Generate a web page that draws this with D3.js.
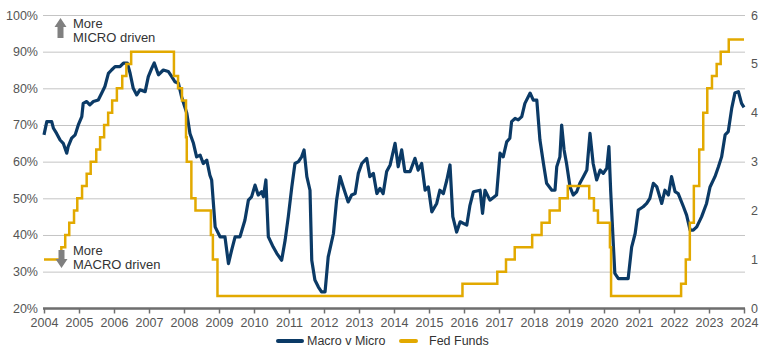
<!DOCTYPE html>
<html>
<head>
<meta charset="utf-8">
<script src="https://cdn.jsdelivr.net/npm/d3@7"></script>
<style>
  body { margin: 0; background: #fff; }
  svg { font-family: "Liberation Sans", Arial, sans-serif; }
</style>
</head>
<body>
<svg width="770" height="353"></svg>
<script>
// tick labels
var years = d3.range(2004, 2025);
var leftTicks = [20, 30, 40, 50, 60, 70, 80, 90, 100];
var rightTicks = [0, 1, 2, 3, 4, 5, 6];

// Macro v Micro (%), [decimal year, value]
var macroMicro = [
  [2004.00, 67.3], [2004.08, 70.9], [2004.22, 70.9], [2004.27, 69.1], [2004.36, 67.7], [2004.46, 65.9],
  [2004.55, 65], [2004.65, 62.3], [2004.69, 64.1], [2004.79, 66.4], [2004.89, 67.3], [2004.98, 70],
  [2005.08, 72.3], [2005.12, 75.9], [2005.22, 76.4], [2005.31, 75.5], [2005.41, 76.4], [2005.55, 76.8],
  [2005.65, 78.7], [2005.74, 80.5], [2005.84, 84.1], [2005.93, 85], [2006.03, 85.9], [2006.17, 85.9],
  [2006.27, 86.9], [2006.38, 86.9], [2006.46, 84.1], [2006.55, 80], [2006.65, 78.2], [2006.74, 79.6],
  [2006.89, 79.1], [2006.98, 83.2], [2007.08, 85.5], [2007.15, 86.9], [2007.27, 83.7], [2007.41, 85],
  [2007.55, 84.6], [2007.65, 83.2], [2007.74, 81.8], [2007.84, 81.4], [2007.93, 77.7], [2008.08, 73.2],
  [2008.17, 67.7], [2008.27, 65], [2008.36, 61.3], [2008.46, 61.8], [2008.55, 59.5], [2008.65, 60.4],
  [2008.74, 56.3], [2008.79, 55], [2008.89, 42.2], [2009.03, 39.5], [2009.17, 39.5], [2009.27, 32.2],
  [2009.36, 35.8], [2009.46, 39.5], [2009.60, 39.5], [2009.74, 44], [2009.84, 49.5], [2009.93, 50.4],
  [2010.03, 53.6], [2010.12, 50.9], [2010.22, 51.8], [2010.27, 50.4], [2010.34, 55], [2010.41, 39.5],
  [2010.55, 36.7], [2010.65, 35], [2010.79, 33.1], [2010.89, 38.6], [2010.98, 45], [2011.08, 53.1],
  [2011.17, 59.5], [2011.27, 60], [2011.36, 61.3], [2011.43, 63.2], [2011.51, 55.9], [2011.60, 52.2],
  [2011.65, 33.1], [2011.74, 27.7], [2011.84, 25.8], [2011.93, 24.5], [2012.03, 24.5], [2012.12, 34],
  [2012.27, 40.4], [2012.36, 49.5], [2012.46, 55.9], [2012.55, 53.1], [2012.69, 49], [2012.79, 50.9],
  [2012.89, 51.3], [2012.98, 56.8], [2013.08, 59.5], [2013.22, 60.9], [2013.31, 55.9], [2013.41, 56.8],
  [2013.51, 51.3], [2013.60, 52.7], [2013.69, 51.3], [2013.79, 57.3], [2013.89, 59.1], [2014.03, 65],
  [2014.12, 58.6], [2014.22, 63.2], [2014.31, 57.3], [2014.46, 57.3], [2014.60, 60.9], [2014.69, 57.7],
  [2014.79, 59.5], [2014.89, 52.2], [2014.98, 53.1], [2015.08, 46.3], [2015.22, 48.6], [2015.31, 52.2],
  [2015.41, 51.3], [2015.51, 55], [2015.60, 59.1], [2015.68, 45], [2015.79, 40.8], [2015.89, 43.6],
  [2016.08, 42.7], [2016.17, 48.1], [2016.27, 51.8], [2016.46, 52.2], [2016.53, 45.9], [2016.60, 52.2],
  [2016.74, 49.5], [2016.93, 50.9], [2017.03, 62.3], [2017.12, 61.3], [2017.22, 65.4], [2017.31, 66.4],
  [2017.36, 70.9], [2017.46, 71.8], [2017.55, 71.4], [2017.65, 72.3], [2017.74, 75.9], [2017.89, 78.7],
  [2017.98, 76.8], [2018.08, 76.8], [2018.17, 65.9], [2018.27, 59.5], [2018.36, 54.1], [2018.51, 52.2],
  [2018.60, 52.2], [2018.65, 58.6], [2018.74, 61.3], [2018.79, 70], [2018.86, 63.2], [2018.93, 59.5],
  [2019.03, 53.1], [2019.12, 50.9], [2019.22, 51.8], [2019.31, 54.1], [2019.41, 55.9], [2019.51, 57.7],
  [2019.60, 67.7], [2019.69, 59.5], [2019.79, 55], [2019.89, 57.7], [2019.98, 56.8], [2020.08, 58.2],
  [2020.14, 64.1], [2020.19, 52.2], [2020.27, 36.7], [2020.31, 29.5], [2020.41, 28.1], [2020.60, 28.1],
  [2020.69, 28.1], [2020.79, 36.7], [2020.89, 40.4], [2020.98, 46.8], [2021.12, 47.7], [2021.22, 48.6],
  [2021.31, 50], [2021.41, 54.1], [2021.51, 53.1], [2021.65, 48.6], [2021.74, 52.2], [2021.84, 50.9],
  [2021.93, 55.9], [2022.03, 51.8], [2022.12, 51.3], [2022.27, 47.7], [2022.36, 45.4], [2022.46, 41.3],
  [2022.55, 41.3], [2022.65, 42.2], [2022.79, 45], [2022.93, 48.6], [2023.03, 53.1], [2023.17, 55.9],
  [2023.27, 58.6], [2023.36, 61.3], [2023.46, 67.3], [2023.55, 68.2], [2023.65, 74.6], [2023.74, 78.7],
  [2023.84, 79.1], [2023.93, 75.9], [2024.00, 74.8]
];

// Fed Funds target (upper bound), change dates and new rate
var fedDates = ["2004-01-01","2004-06-30","2004-08-10","2004-09-21","2004-11-10","2004-12-14",
  "2005-02-02","2005-03-22","2005-05-03","2005-06-30","2005-08-09","2005-09-20","2005-11-01","2005-12-13",
  "2006-01-31","2006-03-28","2006-05-10","2006-06-29","2007-09-18","2007-10-31","2007-12-11",
  "2008-01-22","2008-01-30","2008-03-18","2008-04-30","2008-10-08","2008-10-29","2008-12-16",
  "2015-12-16","2016-12-14","2017-03-15","2017-06-14","2017-12-13","2018-03-21","2018-06-13",
  "2018-09-26","2018-12-19","2019-07-31","2019-09-18","2019-10-30","2020-03-03","2020-03-15",
  "2022-03-16","2022-05-04","2022-06-15","2022-07-27","2022-09-21","2022-11-02","2022-12-14",
  "2023-02-01","2023-03-22","2023-05-03","2023-07-26","2024-01-01"];
var fedRates = [1, 1.25, 1.5, 1.75, 2, 2.25,
  2.5, 2.75, 3, 3.25, 3.5, 3.75, 4, 4.25,
  4.5, 4.75, 5, 5.25, 4.75, 4.5, 4.25,
  3.5, 3, 2.25, 2, 1.5, 1, 0.25,
  0.5, 0.75, 1, 1.25, 1.5, 1.75, 2,
  2.25, 2.5, 2.25, 2, 1.75, 1.25, 0.25,
  0.5, 1, 1.75, 2.5, 3.25, 4, 4.5,
  4.75, 5, 5.25, 5.5, 5.5];

var blue = "#0b3a66", gold = "#e2a900", grey = "#555";

var parse = d3.timeParse("%Y-%m-%d");
function decYear(s) {
  var d = parse(s), y = d.getFullYear();
  var a = new Date(y, 0, 1), b = new Date(y + 1, 0, 1);
  return y + (d - a) / (b - a);
}
var fedData = fedDates.map(function (d, i) { return [decYear(d), fedRates[i]]; });

var svg = d3.select("svg");

var x = d3.scaleLinear().domain([2004, 2024]).range([44, 744]);
var yL = d3.scaleLinear().domain([20, 100]).range([308.3, 15]);
var yR = d3.scaleLinear().domain([0, 6]).range([308.3, 15]);

// gridlines + left labels
var gL = svg.append("g").attr("transform", "translate(43,0)")
  .call(d3.axisLeft(yL).tickValues(leftTicks).tickSize(-702).tickPadding(5)
    .tickFormat(function (d) { return d + "%"; }));
gL.select(".domain").remove();
gL.selectAll("line").attr("stroke", "#c4c4c4");
gL.selectAll("text").attr("fill", grey).style("font-size", "12.5px");

var gR = svg.append("g").attr("transform", "translate(745,0)")
  .call(d3.axisRight(yR).tickValues(rightTicks).tickSize(0).tickPadding(6).tickFormat(d3.format("d")));
gR.select(".domain").remove();
gR.selectAll("text").attr("fill", grey).style("font-size", "12.5px");

// x axis
var gX = svg.append("g").attr("transform", "translate(0,308.5)")
  .call(d3.axisBottom(x).tickValues(years).tickSize(5).tickSizeOuter(0).tickPadding(5).tickFormat(d3.format("d")));
gX.select(".domain").attr("stroke", "#6e6e6e").attr("stroke-width", 2.5).attr("d", "M43,0H745");
gX.selectAll("line").attr("stroke", "#6e6e6e").attr("stroke-width", 1.5);
gX.selectAll("text").attr("fill", grey).style("font-size", "12.5px");

// lines
var lineL = d3.line().x(function (d) { return x(d[0]); }).y(function (d) { return yL(d[1]); });
var lineR = d3.line().curve(d3.curveStepAfter)
  .x(function (d) { return x(d[0]); }).y(function (d) { return yR(d[1]); });

svg.append("path").datum(macroMicro).attr("d", lineL)
  .attr("fill", "none").attr("stroke", blue).attr("stroke-width", 3.2).attr("stroke-linejoin", "round");
svg.append("path").datum(fedData).attr("d", lineR)
  .attr("fill", "none").attr("stroke", gold).attr("stroke-width", 2.5);

// annotations
var arrowUp = "M60.5,18 L66.5,27 L63.5,27 L63.5,38 L57.5,38 L57.5,27 L54.5,27 Z";
var arrowDown = "M58.5,250 L64.5,250 L64.5,259 L67.5,259 L61.5,268 L55.5,259 L58.5,259 Z";
svg.append("path").attr("d", arrowUp).attr("fill", "#808080");
svg.append("path").attr("d", arrowDown).attr("fill", "#808080");

var notes = [["More", 23], ["MICRO driven", 37], ["More", 250], ["MACRO driven", 264]];
svg.selectAll("text.note").data(notes).enter().append("text").attr("class", "note")
  .attr("x", 73).attr("y", function (d) { return d[1]; }).attr("dy", "0.35em")
  .attr("fill", "#333").style("font-size", "13px").text(function (d) { return d[0]; });

// legend
var legend = [
  { name: "Macro v Micro", color: blue, x0: 278, x1: 302, tx: 307 },
  { name: "Fed Funds", color: gold, x0: 401, x1: 416, tx: 429 }
];
var lg = svg.selectAll("g.leg").data(legend).enter().append("g").attr("class", "leg");
lg.append("line").attr("x1", function (d) { return d.x0; }).attr("x2", function (d) { return d.x1; })
  .attr("y1", 341).attr("y2", 341).attr("stroke", function (d) { return d.color; })
  .attr("stroke-width", 4).attr("stroke-linecap", "round");
lg.append("text").attr("x", function (d) { return d.tx; }).attr("y", 341).attr("dy", "0.35em")
  .attr("fill", "#333").style("font-size", "12.5px").text(function (d) { return d.name; });
</script>
</body>
</html>
